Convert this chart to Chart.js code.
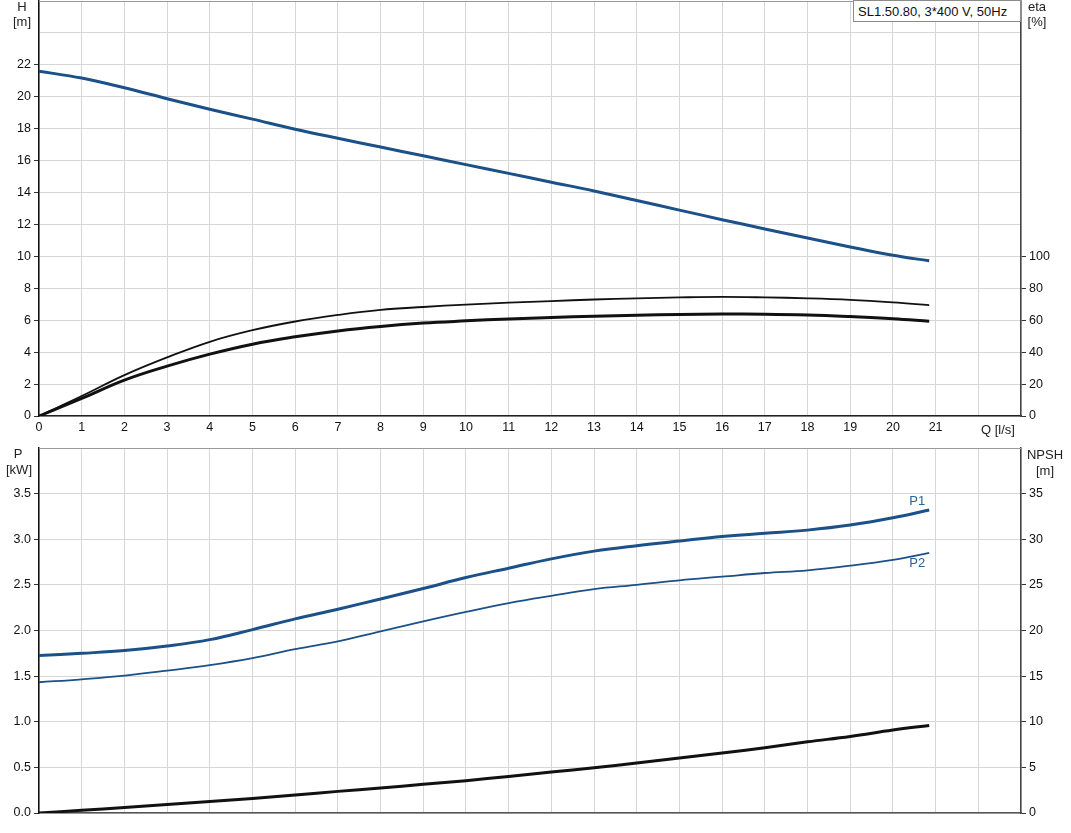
<!DOCTYPE html>
<html>
<head>
<meta charset="utf-8">
<script src="https://cdn.jsdelivr.net/npm/chart.js@4"></script>
<style>
  body { margin: 0; background: #fff; }
  #wrap { position: relative; width: 1071px; height: 833px; }
  #topBox { position: absolute; left: 0; top: 0; }
  #botBox { position: absolute; left: 0; top: 440px; }
  #legendBox {
    position: absolute; left: 853px; top: 0; width: 162px; height: 20px;
    border: 1px solid #8c8c8c; background: #fff; padding-left: 4px;
    font: 13px "Liberation Sans", Arial, sans-serif; line-height: 21px; color: #111;
  }
</style>
</head>
<body>
<div id="wrap">
  <div id="topBox"><canvas id="topChart" width="1071" height="440"></canvas></div>
  <div id="botBox"><canvas id="botChart" width="1071" height="393"></canvas></div>
  <div id="legendBox">SL1.50.80, 3*400 V, 50Hz</div>
</div>
<script>
const flow = [0, 1, 2, 3, 4, 5, 6, 7, 8, 9, 10, 11, 12, 13, 14, 15, 16, 17, 18, 19, 20, 20.85];
const head = [21.6, 21.17, 20.56, 19.88, 19.22, 18.6, 17.97, 17.4, 16.85, 16.3, 15.75, 15.2, 14.65, 14.1, 13.5, 12.9, 12.3, 11.72, 11.15, 10.59, 10.07, 9.72];
const etaTotal = [0, 12.5, 25.6, 36.7, 46.5, 53.75, 59.2, 63.3, 66.5, 68.3, 69.8, 71, 72, 73, 73.75, 74.3, 74.6, 74.3, 73.75, 72.8, 71.2, 69.4];
const etaPump = [0, 11, 22.5, 31.25, 38.75, 45, 49.6, 53.3, 56.1, 58.2, 59.6, 60.8, 61.7, 62.5, 63.1, 63.6, 63.9, 63.8, 63.3, 62.3, 61, 59.4];
const powerP1 = [1.725, 1.75, 1.78, 1.83, 1.9, 2.01, 2.127, 2.233, 2.346, 2.46, 2.58, 2.683, 2.785, 2.87, 2.93, 2.98, 3.03, 3.065, 3.1, 3.155, 3.235, 3.32];
const powerP2 = [1.433, 1.465, 1.505, 1.56, 1.62, 1.696, 1.795, 1.88, 1.99, 2.1, 2.204, 2.3, 2.38, 2.453, 2.5, 2.55, 2.59, 2.63, 2.66, 2.71, 2.774, 2.85];
const npsh = [0, 0.3, 0.6, 0.92, 1.25, 1.6, 1.97, 2.37, 2.74, 3.14, 3.54, 4.01, 4.49, 4.96, 5.47, 6.02, 6.57, 7.15, 7.8, 8.39, 9.09, 9.6];

const FONT = { family: '"Liberation Sans", Arial, sans-serif', size: 12.5 };
const BLUE = "#1b5088";
const GRID = "#d6d6d6";

function pts(ys) {
  return flow.map((q, i) => ({ x: q, y: ys[i] }));
}

function line(label, ys, color, width, axis) {
  return {
    label: label,
    data: pts(ys),
    borderColor: color,
    borderWidth: width,
    pointRadius: 0,
    fill: false,
    tension: 0.4,
    yAxisID: axis,
  };
}

function fixWidth(w) {
  return (s) => { s.width = w; s.paddingTop = 0; s.paddingBottom = 0; };
}

function tickMark(limit) {
  return (c) => (c.tick && c.tick.value > limit + 1e-9 ? "rgba(0,0,0,0)" : "#333");
}

// axis titles and curve names, drawn after the chart
function textPlugin(texts) {
  return {
    id: "texts",
    afterDraw(chart) {
      const ctx = chart.ctx;
      ctx.save();
      ctx.font = '13px "Liberation Sans", Arial, sans-serif';
      ctx.textAlign = "center";
      ctx.textBaseline = "middle";
      texts.forEach((t) => {
        ctx.fillStyle = t.color || "#222";
        let px = t.px, py = t.py;
        if (t.at) {
          px = chart.scales.x.getPixelForValue(t.at[0]) + t.dx;
          py = chart.scales.y.getPixelForValue(t.at[1]) + t.dy;
        }
        ctx.fillText(t.text, px, py);
      });
      // top border of the plot area
      const a = chart.chartArea;
      ctx.strokeStyle = "#9a9a9a";
      ctx.lineWidth = 1;
      ctx.beginPath();
      ctx.moveTo(a.left, a.top + 0.5);
      ctx.lineTo(a.right, a.top + 0.5);
      ctx.stroke();
      ctx.restore();
    },
  };
}

new Chart(document.getElementById("topChart"), {
  type: "line",
  data: {
    datasets: [
      line("H", head, BLUE, 3, "y"),
      line("eta", etaTotal, "#111", 1.8, "y2"),
      line("eta pump", etaPump, "#111", 3, "y2"),
    ],
  },
  options: {
    responsive: false,
    animation: false,
    layout: { padding: { top: 1, left: 0, right: 0, bottom: 0 } },
    plugins: { legend: { display: false }, tooltip: { enabled: false } },
    scales: {
      x: {
        type: "linear",
        min: 0,
        max: 23,
        ticks: {
          stepSize: 1, color: "#111", font: FONT, padding: 4, maxRotation: 0, autoSkip: false,
          callback: (v) => (v <= 21 ? v : ""),
        },
        grid: { color: GRID, drawTicks: false },
        border: { color: "#222", width: 1.5 },
        afterFit: (s) => { s.height = 24; s.paddingLeft = 0; s.paddingRight = 0; },
      },
      y: {
        position: "left",
        min: 0,
        max: 26,
        ticks: { stepSize: 2, color: "#111", font: FONT, padding: 3, callback: (v) => (v <= 22 ? v : "") },
        grid: { color: GRID, tickLength: 5, tickColor: tickMark(22) },
        border: { color: "#111", width: 1.5 },
        afterFit: fixWidth(39),
      },
      y2: {
        position: "right",
        min: 0,
        max: 260,
        ticks: { stepSize: 20, color: "#111", font: FONT, padding: 3, callback: (v) => (v <= 100 ? v : "") },
        grid: { drawOnChartArea: false, tickLength: 5, tickColor: tickMark(100) },
        border: { color: "#444", width: 1.5 },
        afterFit: fixWidth(50),
      },
    },
  },
  plugins: [textPlugin([
    { text: "H", px: 22, py: 7 },
    { text: "[m]", px: 22, py: 22 },
    { text: "eta", px: 1037, py: 7 },
    { text: "[%]", px: 1037, py: 22 },
    { text: "Q [l/s]", px: 998, py: 430 },
  ])],
});

new Chart(document.getElementById("botChart"), {
  type: "line",
  data: {
    datasets: [
      line("P1", powerP1, BLUE, 3, "y"),
      line("P2", powerP2, BLUE, 1.8, "y"),
      line("NPSH", npsh, "#111", 3, "y2"),
    ],
  },
  options: {
    responsive: false,
    animation: false,
    layout: { padding: { top: 8, left: 0, right: 0, bottom: 20 } },
    plugins: { legend: { display: false }, tooltip: { enabled: false } },
    scales: {
      x: {
        type: "linear",
        min: 0,
        max: 23,
        ticks: { stepSize: 1, display: false },
        grid: { color: GRID, drawTicks: false },
        border: { color: "#555", width: 1.5 },
        afterFit: (s) => { s.height = 0; s.paddingLeft = 0; s.paddingRight = 0; },
      },
      y: {
        position: "left",
        min: 0,
        max: 4,
        ticks: { stepSize: 0.5, color: "#111", font: FONT, padding: 3, callback: (v) => (v < 3.9 ? v.toFixed(1) : "") },
        grid: { color: GRID, tickLength: 5, tickColor: tickMark(3.5) },
        border: { color: "#111", width: 1.5 },
        afterFit: fixWidth(39),
      },
      y2: {
        position: "right",
        min: 0,
        max: 40,
        ticks: { stepSize: 5, color: "#111", font: FONT, padding: 3, callback: (v) => (v <= 35 ? v : "") },
        grid: { drawOnChartArea: false, tickLength: 5, tickColor: tickMark(35) },
        border: { color: "#444", width: 1.5 },
        afterFit: fixWidth(50),
      },
    },
  },
  plugins: [textPlugin([
    { text: "P", px: 18, py: 14 },
    { text: "[kW]", px: 19, py: 30 },
    { text: "NPSH", px: 1045, py: 15 },
    { text: "[m]", px: 1045, py: 31 },
    { text: "P1", at: [flow[flow.length - 1], powerP1[powerP1.length - 1]], dx: -12, dy: -9, color: "#2a6399" },
    { text: "P2", at: [flow[flow.length - 1], powerP2[powerP2.length - 1]], dx: -12, dy: 10, color: "#2a6399" },
  ])],
});
</script>
</body>
</html>
